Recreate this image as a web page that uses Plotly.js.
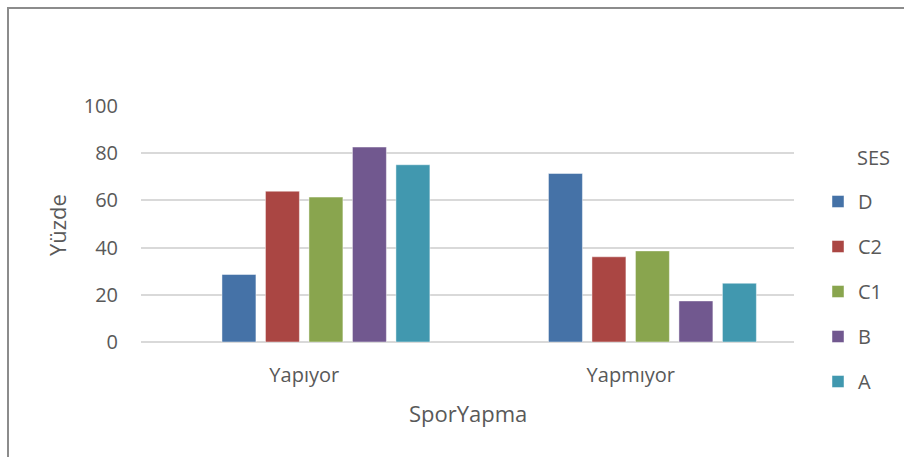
<!DOCTYPE html>
<html>
<head>
<meta charset="utf-8">
<script src="https://cdn.plot.ly/plotly-3.0.1.min.js"></script>
<style>
html,body{margin:0;padding:0;background:#fff;}
#chart{width:904px;height:457px;}
</style>
</head>
<body>
<div id="chart"></div>
<script>
// ---- data ----
const categories = ['Yapıyor', 'Yapmıyor'];
const seriesNames = ['D', 'C2', 'C1', 'B', 'A'];
const valuesD  = [28.6, 71.4];
const valuesC2 = [63.9, 36.1];
const valuesC1 = [61.4, 38.6];
const valuesB  = [82.6, 17.4];
const valuesA  = [75.1, 24.9];
const yTicks = [0, 20, 40, 60, 80, 100];
const legendTitle = 'SES';
const xTitle = 'SporYapma';
const yTitle = 'Yüzde';

// ---- styles ----
const seriesValues = [valuesD, valuesC2, valuesC1, valuesB, valuesA];
const colors = ['#4572A7', '#AA4643', '#89A54E', '#71588F', '#4198AF'];
const textColor = '#595959';
const fontFamily = '"Open Sans", "Noto Sans", sans-serif';
const barWidth = 0.104;
const firstOffset = -0.252;
const slotStep = 0.1332;

const traces = seriesNames.map((name, i) => ({
  type: 'bar',
  name: name,
  x: categories,
  y: seriesValues[i],
  width: barWidth,
  offset: firstOffset + i * slotStep,
  legendgroup: 'g' + i,
  marker: {color: colors[i], line: {color: 'rgba(255,255,255,0.45)', width: 1}},
  hoverinfo: 'x+y+name'
}));

const layout = {
  width: 904,
  height: 457,
  margin: {l: 141, r: 110, t: 106, b: 115},
  paper_bgcolor: '#ffffff',
  plot_bgcolor: '#ffffff',
  barmode: 'overlay',
  font: {family: fontFamily, color: textColor, size: 20},
  showlegend: true,
  legend: {
    x: (818 - 141) / 653, xanchor: 'left',
    y: (342 - 182) / 236, yanchor: 'top',
    font: {size: 20, color: textColor, family: fontFamily},
    tracegroupgap: 16,
    bgcolor: 'rgba(0,0,0,0)',
    borderwidth: 0
  },
  xaxis: {
    type: 'category',
    range: [-0.5, 1.5],
    showgrid: false,
    showline: false,
    zeroline: false,
    ticks: '',
    ticklabelstandoff: 19,
    tickfont: {size: 20, color: textColor, family: fontFamily}
  },
  yaxis: {
    range: [0, 100],
    tickvals: yTicks,
    ticktext: yTicks.map(String),
    showgrid: true,
    gridcolor: '#d9d9d9',
    gridwidth: 1.6,
    zeroline: true,
    zerolinecolor: '#d9d9d9',
    zerolinewidth: 1.6,
    showline: false,
    ticks: '',
    ticklabelstandoff: 22,
    tickfont: {size: 20, color: textColor, family: fontFamily}
  },
  annotations: [
    {text: yTitle, xref: 'paper', yref: 'paper', x: (57 - 141) / 653, y: (342 - 225) / 236,
     xanchor: 'center', yanchor: 'middle', textangle: -90, showarrow: false,
     font: {size: 22, color: textColor, family: fontFamily}},
    {text: xTitle, xref: 'paper', yref: 'paper', x: 0.5, y: (342 - 413) / 236,
     xanchor: 'center', yanchor: 'middle', showarrow: false,
     font: {size: 22, color: textColor, family: fontFamily}},
    {text: legendTitle, xref: 'paper', yref: 'paper', x: (855 - 141) / 653, y: (342 - 157) / 236,
     xanchor: 'left', yanchor: 'middle', showarrow: false,
     font: {size: 20, color: textColor, family: fontFamily}}
  ],
  shapes: [
    {type: 'rect', xref: 'paper', yref: 'paper',
     x0: (8 - 141) / 653, x1: (920 - 141) / 653,
     y0: (342 - 480) / 236, y1: (342 - 8) / 236,
     line: {color: '#8c8c8c', width: 2}, fillcolor: 'rgba(0,0,0,0)', layer: 'below'}
  ]
};

Plotly.newPlot('chart', traces, layout, {displayModeBar: false});
</script>
</body>
</html>
